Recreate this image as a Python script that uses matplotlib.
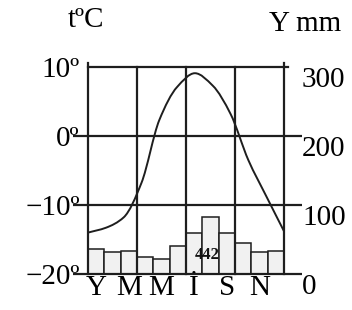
import numpy as np
import matplotlib
matplotlib.use("Agg")
import matplotlib.pyplot as plt
from matplotlib.path import Path
from matplotlib.patches import PathPatch

# ---- data ----
month_labels = ["Y", "M", "M", "İ", "S", "N"]
precip_mm = [36, 32, 33, 25, 22, 41, 60, 82, 60, 45, 32, 34]
temp_c = [-14.0, -13.3, -11.8, -6.8, 2.3, 7.1, 9.1, 7.3, 3.2, -3.5, -8.7, -13.8]
temp_ticks = [-20, -10, 0, 10]
temp_ticklabels = ["−20º", "−10º", "0º", "10º"]
prec_ticks = [0, 100, 200, 300]
prec_ticklabels = ["0", "100", "200", "300"]
annual_total = "442"

plt.rcParams['font.family'] = ['Liberation Serif', 'DejaVu Serif']
INK = '#1e1e1e'
LW = 1.6
FS = 21

fig = plt.figure(figsize=(3.52, 3.10), dpi=100)
L, R, T, B = 88, 284, 67, 274
rect = [L / 352, 1 - B / 310, (R - L) / 352, (B - T) / 310]

# precipitation axis (bars), drawn underneath
axp = fig.add_axes(rect)
axp.set_xlim(0, 12)
axp.set_ylim(0, 300)
axp.bar(np.arange(12) + 0.5, precip_mm, width=1.0, color='#f1f1f1',
        edgecolor=INK, linewidth=1.1, zorder=1)
axp.yaxis.tick_right()
axp.set_yticks(prec_ticks)
axp.set_yticklabels(prec_ticklabels, fontsize=FS)
axp.tick_params(axis='y', length=0, pad=13)
axp.tick_params(axis='x', length=0, labelbottom=False)
for lab in axp.get_yticklabels():
    lab.set_verticalalignment('top')
for s in axp.spines.values():
    s.set_visible(False)
axp.text(7.3, 27, annual_total, ha='center', va='center', fontsize=12,
         fontweight='bold', color='#111', zorder=5)

# temperature axis (grid, frame), drawn on top
axt = fig.add_axes(rect)
axt.set_xlim(0, 12)
axt.set_zorder(2)
axt.patch.set_visible(False)
axt.set_ylim(-20, 10)
axt.set_yticks(temp_ticks)
axt.set_yticklabels(temp_ticklabels, fontsize=FS)
axt.tick_params(axis='y', length=0, pad=6)
axt.set_xticks(np.arange(0, 12, 2) + 0.5)
axt.set_xticklabels(month_labels, fontsize=FS)
axt.tick_params(axis='x', length=0, pad=1)
for s in axt.spines.values():
    s.set_visible(False)

ytr = axt.get_yaxis_transform()
for yv in [-20, -10, 0]:
    axt.plot([-0.077, 1.09], [yv, yv], transform=ytr, color=INK, lw=LW,
             clip_on=False, solid_capstyle='butt')
axt.plot([0, 1.02], [10, 10], transform=ytr, color=INK, lw=LW, clip_on=False)
for xv in [0, 12]:
    axt.plot([xv, xv], [-20, 10.6], color=INK, lw=LW, clip_on=False)
for xv in [3, 6, 9]:
    axt.plot([xv, xv], [-20, 10], color=INK, lw=LW, clip_on=False)

# temperature curve (monotone cubic Hermite drawn as Bezier path)
axc = axt.twiny()
axc.set_xlim(0, 11)
axc.set_ylim(-20, 10)
axc.axis('off')
ys = np.array(temp_c)
n = len(ys)
d = np.diff(ys)
m = np.zeros(n)
m[0], m[-1] = d[0], d[-1]
for i in range(1, n - 1):
    if d[i - 1] * d[i] > 0:
        m[i] = 2 * d[i - 1] * d[i] / (d[i - 1] + d[i])
    else:
        m[i] = 0.0
verts = [(0.0, ys[0])]
codes = [Path.MOVETO]
for i in range(n - 1):
    verts += [(i + 1 / 3, ys[i] + m[i] / 3),
              (i + 2 / 3, ys[i + 1] - m[i + 1] / 3),
              (i + 1.0, ys[i + 1])]
    codes += [Path.CURVE4] * 3
axc.add_patch(PathPatch(Path(verts, codes), fill=False, edgecolor=INK, lw=1.4))

fig.text(86 / 352, 1 - 20 / 310, "tºC", ha='center', va='center', fontsize=FS)
fig.text(305 / 352, 1 - 24 / 310, "Y mm", ha='center', va='center', fontsize=FS)

fig.savefig("out.png", dpi=100)
